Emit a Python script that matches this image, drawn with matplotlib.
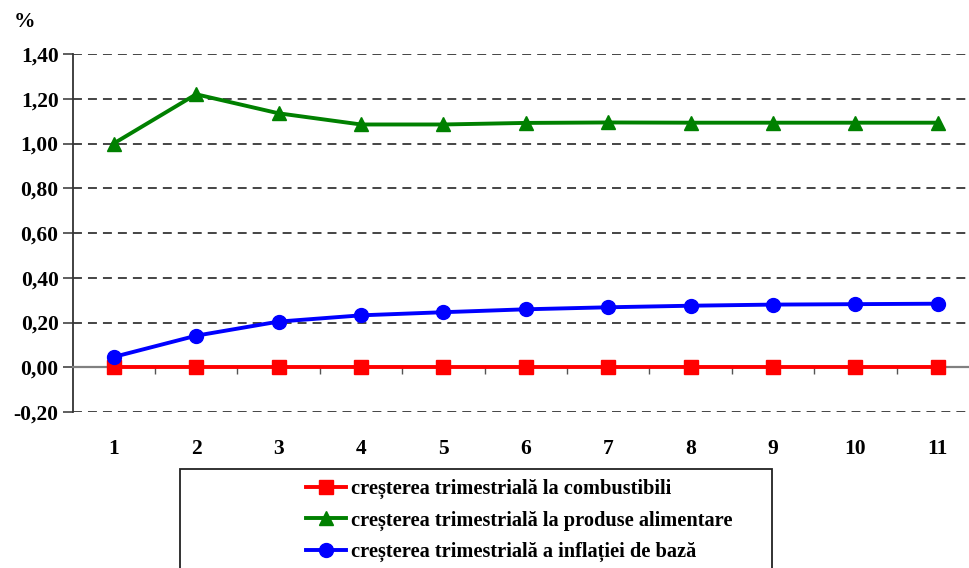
import matplotlib
matplotlib.use("Agg")
import matplotlib.pyplot as plt
from matplotlib.patches import Rectangle

quarters = [1, 2, 3, 4, 5, 6, 7, 8, 9, 10, 11]
x_labels = ["1", "2", "3", "4", "5", "6", "7", "8", "9", "10", "11"]
combustibili = [0, 0, 0, 0, 0, 0, 0, 0, 0, 0, 0]
alimentare = [1.00, 1.22, 1.135, 1.085, 1.085, 1.092, 1.094, 1.093, 1.093, 1.093, 1.093]
inflatie_baza = [0.046, 0.141, 0.204, 0.232, 0.246, 0.259, 0.268, 0.275, 0.280, 0.282, 0.284]
y_ticks = [-0.2, 0.0, 0.2, 0.4, 0.6, 0.8, 1.0, 1.2, 1.4]
y_labels = ["-0,20", "0,00", "0,20", "0,40", "0,60", "0,80", "1,00", "1,20", "1,40"]
names = ["creșterea trimestrială la combustibili",
         "creșterea trimestrială la produse alimentare",
         "creșterea trimestrială a inflației de bază"]

plt.rcParams['font.family'] = ['Liberation Serif', 'DejaVu Serif']
plt.rcParams['font.weight'] = 'bold'

W, H = 969, 568
fig = plt.figure(figsize=(W / 100, H / 100), dpi=100)
left_px, right_px, top_px, bot_px = 72.5, 979, 54, 412
ax = fig.add_axes([left_px / W, 1 - bot_px / H, (right_px - left_px) / W, (bot_px - top_px) / H])
ax.set_xlim(0.5, 11.5)
ax.set_ylim(-0.2, 1.4)

ax.plot(quarters, combustibili, color='#ff0000', lw=2.8, marker='s', ms=10, zorder=3, label=names[0])
ax.plot(quarters, alimentare, color='#008000', lw=2.8, marker='^', ms=10.5, zorder=3, label=names[1])
ax.plot(quarters, inflatie_baza, color='#0000ff', lw=2.8, marker='o', ms=10, zorder=4, label=names[2])

ax.set_yticks(y_ticks)
ax.set_yticklabels(y_labels, fontsize=15.5, fontweight='bold')
ax.yaxis.grid(True, linestyle=(0, (4.6, 3.1)), color='#444444', lw=1.4)
ax.set_axisbelow(True)
ax.tick_params(axis='y', direction='out', length=7, width=1.1, color='#333333', pad=3)

for s in ['top', 'right']:
    ax.spines[s].set_visible(False)
ax.spines['left'].set_color('#333333')
ax.spines['left'].set_linewidth(1.3)
ax.spines['bottom'].set_position(('data', 0))
ax.spines['bottom'].set_color('#808080')
ax.spines['bottom'].set_linewidth(1.6)

ax.set_xticks(quarters)
ax.set_xticklabels(x_labels, fontsize=15.5, fontweight='bold')
ax.set_xticks([q + 0.5 for q in quarters[:-1]], minor=True)
ax.tick_params(axis='x', which='major', length=0, pad=52)
ax.tick_params(axis='x', which='minor', direction='out', length=5, width=1, color='#555555')

fig.text(14 / W, 1 - 22 / H, "%", fontsize=15.5, fontweight='bold', va='center', ha='left')

fig.patches.append(Rectangle((180 / W, -0.05), 592 / W, (568 - 469) / H + 0.05,
                             transform=fig.transFigure, fill=False, ec='#222222', lw=1.3))
leg = fig.legend(loc='upper left', bbox_to_anchor=(306 / W, 1 - 479 / H), frameon=False,
                 prop={'size': 14.7, 'weight': 'bold'}, handlelength=1.95, handletextpad=0.25,
                 labelspacing=0.55, borderaxespad=0, borderpad=0)

fig.savefig("out.png", dpi=100)
